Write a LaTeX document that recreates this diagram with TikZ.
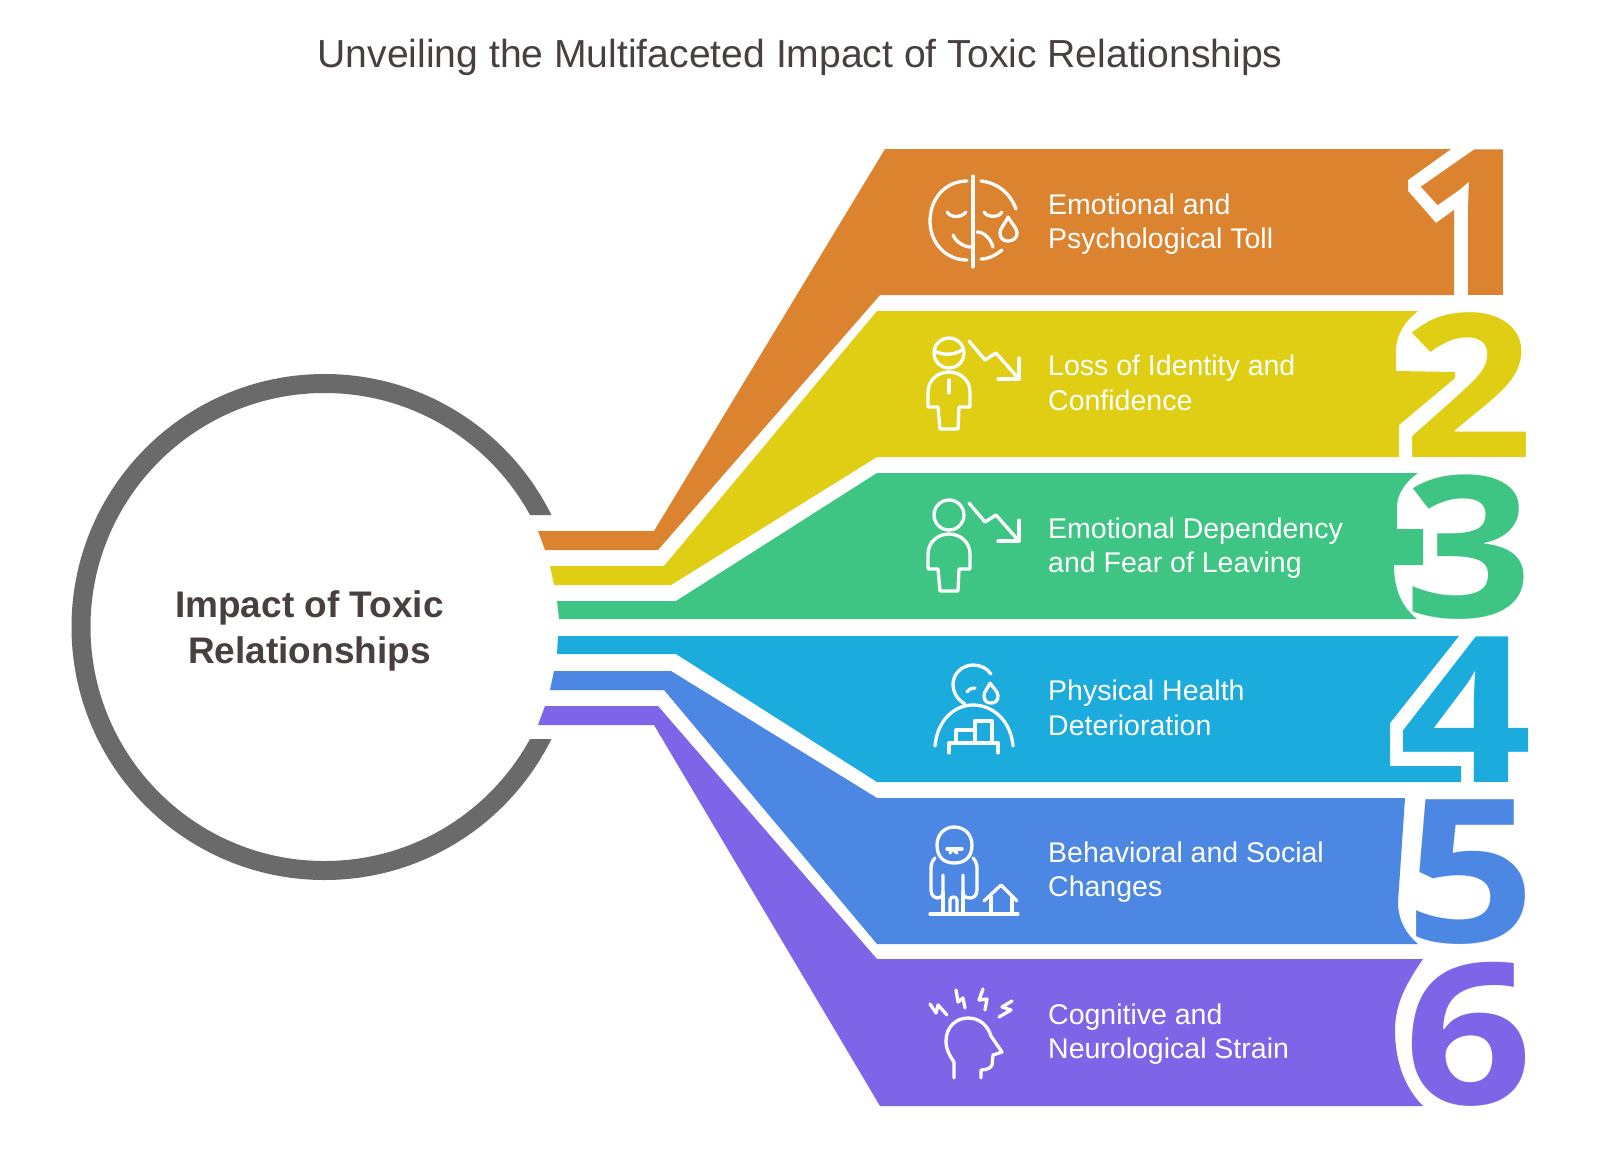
\documentclass[tikz,border=0pt]{standalone}
\usepackage{fontspec}
\setmainfont{Liberation Sans}
\newfontfamily\digitface[FakeStretch=1.14]{Open Sans Bold}
\definecolor{ringgrey}{HTML}{6A6A6A}
\definecolor{inkbrown}{HTML}{483F3F}
\definecolor{bandorange}{HTML}{DC832F}
\definecolor{bandyellow}{HTML}{DFCE13}
\definecolor{bandgreen}{HTML}{3EC584}
\definecolor{bandblue}{HTML}{1BABDC}
\definecolor{bandcobalt}{HTML}{4D87E4}
\definecolor{bandviolet}{HTML}{7E65E8}
\tikzset{
  titletext/.style={font=\fontsize{39.1}{46}\selectfont, text=inkbrown, inner sep=0pt},
  hubtext/.style={font=\bfseries\fontsize{37}{46}\selectfont, text=inkbrown, align=center, inner sep=0pt},
  bandtext/.style={font=\fontsize{28.5}{34.7}\selectfont, text=white, align=left, anchor=west, inner sep=0pt},
  bandnum/.style={font=\digitface\fontsize{#1}{#1}\selectfont, anchor=base, inner sep=0pt},
  iconline/.style={draw=white, line width=3.3pt, line cap=round, line join=round},
  personicon/.pic={
    \draw[iconline] (949,353) circle (15);
    \draw[iconline] (928,407) -- (928,392) .. controls (928,380) and (938,372) .. (949,372)
      .. controls (960,372) and (970,380) .. (970,392) -- (970,407) -- (959,407) -- (958,429)
      -- (940,429) -- (938,407) -- cycle;
    \draw[iconline] (969,341) -- (985,360) -- (996,353) -- (1018,378);
    \draw[iconline] (998,379) -- (1019,379) -- (1019,358);
  },
}

\begin{document}
\begin{tikzpicture}[x=1pt,y=-1pt]
\useasboundingbox (0,0) rectangle (1600,1154);
\fill[white] (0,0) rectangle (1600,1154);

\node[titletext] (title) at (800,57) {Unveiling the Multifaceted Impact of Toxic Relationships};

% hub ring, open towards the bands
\begin{scope}
  \clip (0,0) rectangle (1600,515) (0,739) rectangle (1600,1154) (0,515) rectangle (500,739);
  \node[circle, draw=ringgrey, line width=19pt, minimum size=487pt, inner sep=0pt] (hub) at (324.5,627) {};
\end{scope}
\node[hubtext] (hublabel) at (309.5,631) {Impact of Toxic\\Relationships};

% bands, each one cut back round its numeral
\fill[bandorange] (538,531) -- (654,531) -- (885,149) -- (1451,149) -- (1408,180) -- (1408,191) -- (1436,223) -- (1454,210) -- (1454,295) -- (880,295) -- (658,550) -- (545,550) -- cycle;
\fill[bandyellow] (550,566) -- (664,566) -- (877,311) -- (1418,311) .. controls (1404,322) and (1396,336) .. (1396,350) -- (1396,371) -- (1455,372) -- (1455,378) -- (1399,425) -- (1399,457) -- (877,457) -- (671,585) -- (554,585) -- cycle;
\fill[bandgreen] (557,601) -- (676,601) -- (877,473) -- (1418,473) .. controls (1404,483) and (1397,495) .. (1397,507) -- (1397,529) -- (1423,529) -- (1423,565) -- (1394,565) .. controls (1394,590) and (1402,607) .. (1417,619) -- (559,619) -- cycle;
\fill[bandblue] (558,636) -- (1459,636) -- (1390,723) -- (1390,766) -- (1461,766) -- (1461,782) -- (877,782) -- (676,654) -- (557,654) -- cycle;
\fill[bandcobalt] (554,671) -- (671,671) -- (877,798) -- (1405,798) -- (1398,902) .. controls (1398,920) and (1406,934) .. (1418,944) -- (877,944) -- (664,690) -- (550,690) -- cycle;
\fill[bandviolet] (545,706) -- (658,706) -- (877,959) -- (1423,959) .. controls (1405,985) and (1395,1005) .. (1395,1030) .. controls (1395,1062) and (1405,1088) .. (1423,1106) -- (880,1106) -- (654,725) -- (538,725) -- cycle;

% numerals
\node[bandnum=204, text=bandorange] (numone) at (1474,295) {1};
\node[bandnum=200, text=bandyellow] (numtwo) at (1469,457) {2};
\node[bandnum=197, text=bandgreen] (numthree) at (1469,617) {3};
\node[bandnum=204, text=bandblue] (numfour) at (1466,782) {4};
\node[bandnum=200, text=bandcobalt] (numfive) at (1471,942) {5};
\node[bandnum=197, text=bandviolet] (numsix) at (1469,1104) {6};

% band labels
\node[bandtext] (emotional) at (1048,224) {Emotional and\\Psychological Toll};
\node[bandtext] (identity) at (1048,383) {Loss of Identity and\\Confidence};
\node[bandtext] (dependency) at (1048,548) {Emotional Dependency\\and Fear of Leaving};
\node[bandtext] (physical) at (1048,708) {Physical Health\\Deterioration};
\node[bandtext] (behavioral) at (1048,872) {Behavioral and Social\\Changes};
\node[bandtext] (cognitive) at (1048,1034) {Cognitive and\\Neurological Strain};

% icon 1
\draw[iconline] (973,176) -- (973,267);
\draw[iconline] (967,181) .. controls (946,181) and (930,198) .. (930,221) .. controls (930,243) and (946,260) .. (967,260);
\draw[iconline] (981,181) .. controls (998,183) and (1010,193) .. (1016,209);
\draw[iconline] (981,259) .. controls (989,259) and (996,255) .. (1002,250);
\draw[iconline] (947,212) .. controls (951,218) and (961,218) .. (966,212);
\draw[iconline] (984,212) .. controls (988,218) and (998,218) .. (1002,212);
\draw[iconline] (953,235) .. controls (956,242) and (964,247) .. (971,247);
\draw[iconline] (977,232) .. controls (985,232) and (991,240) .. (993,247);
\draw[iconline] (1008,217) .. controls (1012,224) and (1017,228) .. (1017,233) .. controls (1017,238) and (1013,241) .. (1008,241)
  .. controls (1003,241) and (1000,238) .. (1000,233) .. controls (1000,228) and (1005,224) .. (1008,217);
% icon 2
\pic at (0,0) {personicon};
\draw[iconline] (934,351) .. controls (944,356) and (956,355) .. (963,349);
\draw[iconline] (949,380) -- (949,393);
% icon 3
\pic at (0,162) {personicon};
% icon 4
\draw[iconline] (991,674) .. controls (987,668) and (980,665) .. (973,665) .. controls (962,665) and (953,674) .. (953,684) .. controls (953,693) and (958,700) .. (965,704);
\draw[iconline] (935,746) .. controls (937,722) and (953,705) .. (973,705) .. controls (994,705) and (1011,722) .. (1013,746);
\draw[iconline] (967,692) .. controls (969,689) and (972,688) .. (975,688);
\draw[iconline] (990,683) .. controls (993,688) and (998,691) .. (998,696) .. controls (998,701) and (995,703) .. (991,703)
  .. controls (987,703) and (984,701) .. (984,696) .. controls (984,691) and (988,688) .. (990,683);
\draw[iconline] (949,753) -- (949,743) -- (998,743) -- (998,753);
\draw[iconline] (956,743) -- (956,730) -- (975,730);
\draw[iconline] (975,743) -- (975,721) -- (992,721) -- (992,743);
% icon 5
\draw[iconline] (954,827) .. controls (965,827) and (972,835) .. (972,845) .. controls (972,857) and (965,863) .. (954,863)
  .. controls (944,863) and (937,857) .. (937,845) .. controls (937,835) and (944,827) .. (954,827);
\draw[iconline] (947,849) -- (962,849);
\draw[iconline] (950,853) -- (952,849) -- (957,853);
\draw[iconline] (935,858) .. controls (932,861) and (931,865) .. (931,868) -- (931,890) .. controls (931,896) and (935,898) .. (938,898) .. controls (941,898) and (943,896) .. (943,892) -- (943,875);
\draw[iconline] (943,892) -- (943,914);
\draw[iconline] (950,914) -- (950,900) .. controls (950,896) and (957,896) .. (957,900) -- (957,914);
\draw[iconline] (973,858) .. controls (976,861) and (977,865) .. (977,868) -- (977,890) .. controls (977,896) and (973,898) .. (970,898) .. controls (966,898) and (963,896) .. (963,892) -- (963,875);
\draw[iconline] (963,892) -- (963,914);
\draw[iconline] (930,914) -- (1018,914);
\draw[iconline] (984,901) -- (1001,885) -- (1017,901);
\draw[iconline] (991,897) -- (991,914);
\draw[iconline] (1012,897) -- (1012,914);
% icon 6
\draw[iconline] (954,1078) -- (954,1062) .. controls (950,1056) and (946,1050) .. (946,1041) .. controls (946,1027) and (956,1018) .. (968,1018)
  .. controls (980,1018) and (988,1026) .. (991,1036) -- (1002,1052) -- (993,1055) -- (992,1065) .. controls (991,1068) and (986,1070) .. (981,1070) -- (981,1078);
\draw[iconline] (930,1004) -- (936,1013) -- (938,1005) -- (947,1015);
\draw[iconline] (956,990) -- (958,1002) -- (963,998) -- (965,1008);
\draw[iconline] (983,989) -- (979,1000) -- (987,999) -- (985,1010);
\draw[iconline] (1012,1001) -- (1002,1007) -- (1011,1010) -- (999,1017);
\end{tikzpicture}
\end{document}
